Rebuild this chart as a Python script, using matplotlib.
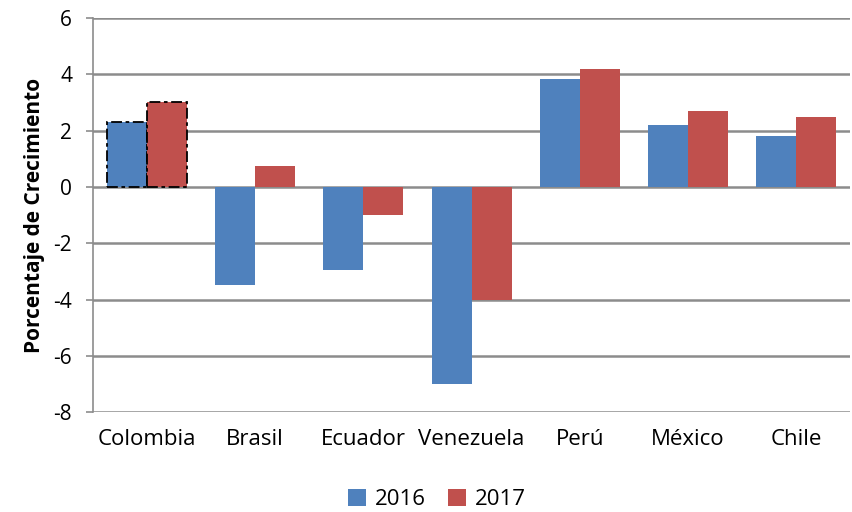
import numpy as np
import matplotlib.pyplot as plt

plt.rcParams['font.family'] = ['Open Sans', 'DejaVu Sans']
plt.rcParams['axes.unicode_minus'] = False

paises = ['Colombia', 'Brasil', 'Ecuador', 'Venezuela', 'Perú', 'México', 'Chile']
crec_2016 = [2.3, -3.5, -2.95, -7.0, 3.83, 2.2, 1.8]
crec_2017 = [3.0, 0.74, -1.0, -4.0, 4.18, 2.7, 2.48]

azul = '#4F81BD'
rojo = '#C0504D'
gris = '#8C8C8C'

fig = plt.figure(figsize=(8.52, 5.12), dpi=100)
ax = fig.add_axes([0.109, 0.195, 0.889, 0.770])

x = np.arange(len(paises))
w = 0.37
b1 = ax.bar(x - w/2, crec_2016, w, color=azul, label='2016', zorder=3)
b2 = ax.bar(x + w/2, crec_2017, w, color=rojo, label='2017', zorder=3)

# Colombia resaltada con borde punteado
for b in (b1[0], b2[0]):
    b.set_edgecolor('black')
    b.set_linestyle((0, (6, 2, 2, 2)))
    b.set_linewidth(1.3)

ax.set_xlim(-0.5, len(paises) - 0.5)
ax.set_ylim(-8, 6)
ax.set_yticks(range(-8, 7, 2))
ax.yaxis.grid(True, color=gris, linewidth=1.8, zorder=0)
ax.set_xticks(x)
ax.set_xticklabels(paises)
ax.tick_params(axis='x', length=0, pad=12, labelsize=16)
ax.tick_params(axis='y', direction='out', length=5, width=1.2, color=gris, pad=10, labelsize=15)

for s in ['top', 'right', 'bottom']:
    ax.spines[s].set_visible(False)
ax.spines['left'].set_color(gris)
ax.spines['left'].set_linewidth(1.2)

ax.set_ylabel('Porcentaje de Crecimiento', fontsize=15, fontweight='bold', labelpad=6)

leg = fig.legend(handles=[b1[1], b2[1]], labels=['2016', '2017'], loc='center',
                 bbox_to_anchor=(0.513, 0.025), ncol=2, frameon=False, fontsize=16,
                 handlelength=0.8, handleheight=0.8, columnspacing=1.0, handletextpad=0.4)

fig.savefig('out.png', dpi=100)
